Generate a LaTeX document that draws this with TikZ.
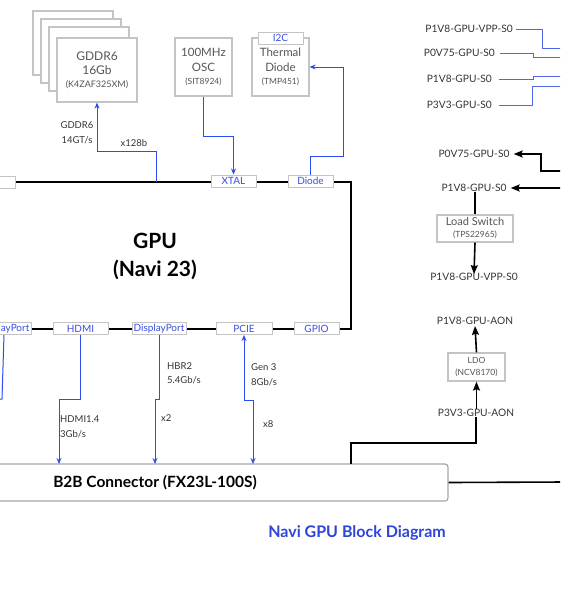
\documentclass[tikz,border=0pt]{standalone}
\usepackage{fontspec}
\setmainfont{Lato}
\usetikzlibrary{arrows.meta}
\definecolor{txtgray}{HTML}{555555}
\definecolor{boxgray}{HTML}{C4C4C4}
\definecolor{linkblue}{HTML}{2B4CF0}
\definecolor{portblue}{HTML}{3A4FE0}
\definecolor{railblue}{HTML}{5068E8}
\definecolor{titleblue}{HTML}{2D45D8}
\definecolor{darktxt}{HTML}{333333}
\newcommand\fs[2]{\fontsize{#1}{#2}\selectfont}
\begin{document}
\begin{tikzpicture}[x=1pt,y=-1pt,
  chip/.style={draw=boxgray, line width=1.2pt, fill=white, text=txtgray, align=center, inner sep=0pt},
  port/.style={draw=boxgray, line width=1pt, fill=white, text=portblue, inner sep=0pt, minimum height=12pt, font=\fs{10}{11}},
  bus/.style={draw=black, line width=1.6pt},
  bluelink/.style={draw=linkblue, line width=1pt, -{Stealth[length=6pt,width=5pt]}},
  bluelink2/.style={draw=linkblue, line width=1pt, {Stealth[length=6pt,width=5pt]}-{Stealth[length=6pt,width=5pt]}},
  blueline/.style={draw=linkblue, line width=1pt},
  rail/.style={draw=railblue, line width=1pt},
  blkarrow/.style={draw=black, line width=1.6pt, -{Stealth[length=9pt,width=7pt,inset=1.5pt]}},
  lbl/.style={text=darktxt, font=\fs{9.5}{14.5}, align=center, inner sep=0pt},
  rlbl/.style={text=darktxt, font=\fs{10.2}{12}, inner sep=0pt},
]
\useasboundingbox (0,0) rectangle (560,600);
\clip (0,0) rectangle (560,600);

% GDDR6 stack
\node[chip, minimum width=80pt, minimum height=64pt] (gb1) at (73,43) {};
\node[chip, minimum width=80pt, minimum height=64pt] (gb2) at (81,51) {};
\node[chip, minimum width=80pt, minimum height=64pt] (gb3) at (89,59) {};
\node[chip, minimum width=80pt, minimum height=64pt, font=\fs{12}{14}] (gddr) at (97,70)
  {GDDR6\\16Gb\\[-1pt]{\fs{9}{10}(K4ZAF325XM)}};

% OSC and thermal diode
\node[chip, minimum width=57pt, minimum height=58pt, font=\fs{11.5}{14.5}] (osc) at (203.5,67)
  {100MHz\\OSC\\[-1.5pt]{\fs{8.5}{10}(SIT8924)}};
\node[chip, minimum width=57pt, minimum height=58pt, font=\fs{11.5}{14.5}] (therm) at (280.5,67)
  {Thermal\\Diode\\[-1.5pt]{\fs{8.5}{10}(TMP451)}};
\node[port, minimum width=45pt] (i2c) at (280.5,38) {I2C};

% GPU outline
\coordinate (gtl) at (-10,182);
\coordinate (gtr) at (351,182);
\coordinate (gbr) at (351,329);
\coordinate (gbl) at (-10,329);
\draw[bus] (gtl) -- (gtr) -- (gbr) -- (gbl);
\node[text=black, font=\bfseries\fs{21}{28}, align=center] (gpu) at (155,256) {GPU\\(Navi 23)};

% ports
\node[port, minimum width=54pt] (ptl) at (-12,182) {};
\node[port, minimum width=45pt] (xtal) at (233.5,181) {XTAL};
\node[port, minimum width=45pt] (diode) at (310.5,181) {Diode};
\node[port, minimum width=54pt] (dp0) at (4,328.5) {DisplayPort};
\node[port, minimum width=55pt] (hdmi) at (80.5,328.5) {HDMI};
\node[port, minimum width=54pt] (dp) at (159,328.5) {DisplayPort};
\node[port, minimum width=56pt] (pcie) at (244,328.5) {PCIE};
\node[port, minimum width=45pt] (gpio) at (316.5,328.5) {GPIO};

% top links
\coordinate (gjoin) at (156,182);
\draw[bluelink] (gjoin) |- (97,151) -- (gddr.south);
\node[lbl] (gl1) at (77,133) {GDDR6\\14GT/s};
\node[lbl] (gl2) at (134,143) {x128b};
\draw[bluelink] (osc.south) |- (233.5,136) -- (xtal.north);
\draw[bluelink] (diode.north) |- (343,156) |- (therm.east);

% B2B connector
\node[draw=gray!70, line width=1.2pt, rounded corners=3pt, minimum width=468pt, minimum height=37pt, inner sep=0pt] (b2b) at (214,482.5) {};
\node[text=black, font=\bfseries\fs{15.5}{17}] (b2bt) at (155,483) {B2B Connector (FX23L-100S)};

% bottom links
\draw[blueline] (dp0.south) -- (2,399) -- (-10,399);
\draw[bluelink] (hdmi.south) |- (59,399) -- (59,464);
\draw[bluelink] (dp.south) |- (155,399) -- (155,464);
\draw[bluelink2] (pcie.south) |- (253,400) -- (253,464);
\node[lbl, align=left, anchor=west] (hl) at (60,427) {HDMI1.4\\3Gb/s};
\node[lbl, align=left, anchor=west] (hbr) at (167,373.5) {HBR2\\5.4Gb/s};
\node[lbl, anchor=west] (x2) at (161,418) {x2};
\node[lbl, align=left, anchor=west] (gen) at (251,375) {Gen 3\\8Gb/s};
\node[lbl, anchor=west] (x8) at (263,424) {x8};

% right rails (blue)
\node[rlbl, anchor=east] (r1) at (513,29) {P1V8-GPU-VPP-S0};
\node[rlbl, anchor=east] (r2) at (495,53) {P0V75-GPU-S0};
\node[rlbl, anchor=east] (r3) at (492,79) {P1V8-GPU-S0};
\node[rlbl, anchor=east] (r4) at (492,105) {P3V3-GPU-S0};
\draw[rail] ([xshift=3pt]r1.east) -- (542,29) |- (565,48);
\draw[rail] ([xshift=5pt]r2.east) -- (533,53) |- (565,57);
\draw[rail] ([xshift=7pt]r3.east) -- (533,79) |- (565,76);
\draw[rail] ([xshift=7pt]r4.east) -- (532,105) |- (565,86);

% right power (black)
\node[rlbl] (pv075) at (474,154) {P0V75-GPU-S0};
\node[rlbl] (p1v8) at (474,188) {P1V8-GPU-S0};
\node[chip, minimum width=76pt, minimum height=27pt, font=\fs{11}{13}] (ls) at (475,228.5)
  {Load Switch\\[-1pt]{\fs{8.5}{10}(TPS22965)}};
\node[rlbl] (vpp) at (474,277) {P1V8-GPU-VPP-S0};
\node[rlbl] (aon) at (475,321) {P1V8-GPU-AON};
\node[chip, minimum width=57pt, minimum height=28pt, font=\fs{8.5}{12}] (ldo) at (476.5,367)
  {LDO\\(NCV8170)};
\node[rlbl] (p3aon) at (476,413) {P3V3-GPU-AON};
\coordinate (in1) at (565,171);
\coordinate (in2) at (565,188);
\coordinate (out1) at (565,482);
\draw[blkarrow] (in1) -| (541,154) -- ([xshift=4pt]pv075.east);
\draw[blkarrow] (in2) -- ([xshift=4pt]p1v8.east);
\draw[bus] (p1v8.south -| ls.north) -- (ls.north);
\draw[blkarrow] (ls.south) -- ([yshift=-1pt]vpp.north);
\draw[blkarrow] (ldo.north) -- ([yshift=-1pt]aon.south);
\draw[blkarrow] (p3aon.north -| ldo.south) -- (ldo.south);
\draw[bus] (p3aon.south -| 476,0) |- (351,443) -- (351,464);
\draw[bus] (b2b.east) -- (out1);

% title
\node[text=titleblue, font=\bfseries\fs{16}{18}] (title) at (357,533) {Navi GPU Block Diagram};
\end{tikzpicture}
\end{document}
